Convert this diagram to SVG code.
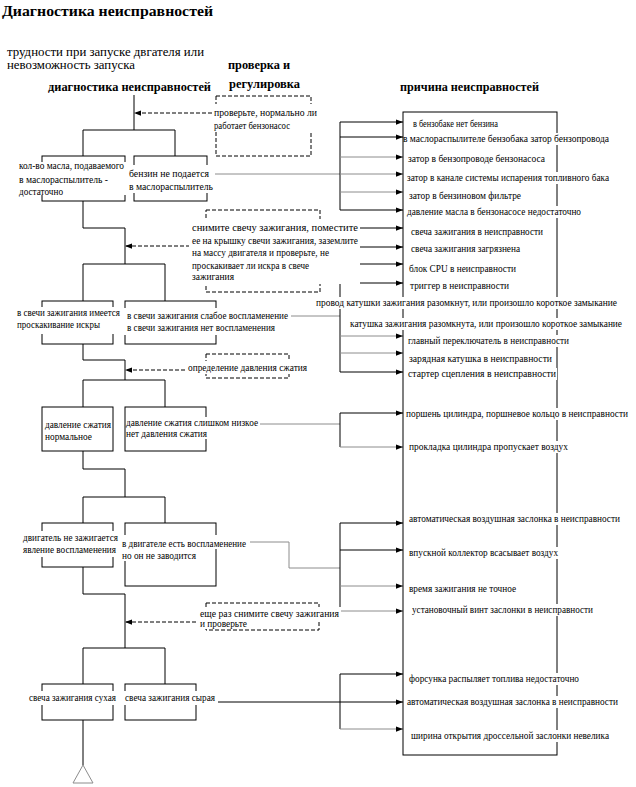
<svg xmlns="http://www.w3.org/2000/svg" width="636" height="787" viewBox="0 0 636 787" font-family="'Liberation Serif', 'DejaVu Serif', serif">
<style>
text{font-family:'Liberation Serif','DejaVu Serif',serif;font-size:10px;fill:#000}
.h{font-weight:bold;font-size:12px}
.t{font-weight:bold;font-size:15px}
.s{font-size:12.5px}
.r{font-size:9.5px}
.ln{fill:none;stroke:#000;stroke-width:1}
.g{fill:none;stroke:#8c8c8c;stroke-width:1}
.d{fill:none;stroke:#000;stroke-width:1;stroke-dasharray:4,2}
.bx{fill:none;stroke:#000;stroke-width:1}
.m{fill:#fff}
</style>
<defs>
<marker id="ah" viewBox="0 0 8 6" refX="8" refY="3" markerWidth="7" markerHeight="5.5" orient="auto" markerUnits="userSpaceOnUse"><path d="M0,0L8,3L0,6z" fill="#000"/></marker>
</defs>
<rect width="636" height="787" fill="#fff"/>

<g id="headers">
<text class="t" x="2" y="16" textLength="211" lengthAdjust="spacingAndGlyphs">Диагностика неисправностей</text>
<text class="s" x="7" y="56" textLength="197" lengthAdjust="spacingAndGlyphs">трудности при запуске двгателя или</text>
<text class="s" x="7" y="69" textLength="128" lengthAdjust="spacingAndGlyphs">невозможность запуска</text>
<text class="h" x="228" y="69" textLength="62" lengthAdjust="spacingAndGlyphs">проверка и</text>
<text class="h" x="229" y="88" textLength="71" lengthAdjust="spacingAndGlyphs">регулировка</text>
<text class="h" x="48" y="91" textLength="163" lengthAdjust="spacingAndGlyphs">диагностика неисправностей</text>
<text class="h" x="400" y="91" textLength="139" lengthAdjust="spacingAndGlyphs">причина неисправностей</text>
</g>

<g id="connectors">
<path class="ln" d="M134,95V130M83,130H175M83,130V156M175,130V156"/>
<path class="d" d="M212,113H134" marker-end="url(#ah)"/>
<path class="ln" d="M83,201V228H125V264"/>
<path class="d" d="M190,246H125" marker-end="url(#ah)"/>
<path class="ln" d="M125,264H165M83,301V264H125M165,264V301"/>
<path class="ln" d="M83,344V360H125V380M83,380H165M83,380V407M165,380V407"/>
<path class="d" d="M185,370H125" marker-end="url(#ah)"/>
<path class="ln" d="M83,451V469H125V497M83,523V497H165V523"/>
<path class="ln" d="M83,567V594H125V648M83,648H165M83,648V684M165,648V684"/>
<path class="d" d="M196,622H125" marker-end="url(#ah)"/>
<path class="ln" d="M83,720V765"/>
<path d="M83,765L73,783H93z" fill="none" stroke="#8c8c8c" stroke-width="1"/>

<path class="g" d="M215,174H340"/>
<path class="ln" d="M340,122V210"/>
<path class="ln" d="M340,122H403" marker-end="url(#ah)"/>
<path class="ln" d="M340,137H403" marker-end="url(#ah)"/>
<path class="g" d="M340,157H403" marker-end="url(#ah)"/>
<path class="g" d="M340,174H403" marker-end="url(#ah)"/>
<path class="g" d="M340,192H403" marker-end="url(#ah)"/>
<path class="ln" d="M340,210H403" marker-end="url(#ah)"/>

<path class="ln" d="M359,228H403" marker-end="url(#ah)"/>
<path class="ln" d="M359,247H403" marker-end="url(#ah)"/>
<path class="ln" d="M359,264H403" marker-end="url(#ah)"/>
<path class="g" d="M290,316H340"/>
<path class="ln" d="M340,283V372"/>
<path class="ln" d="M340,283H403" marker-end="url(#ah)"/>
<path class="g" d="M340,336H403" marker-end="url(#ah)"/>
<path class="g" d="M340,353H403" marker-end="url(#ah)"/>
<path class="ln" d="M340,372H403" marker-end="url(#ah)"/>

<path class="g" d="M260,424H340"/>
<path class="ln" d="M340,413V447"/>
<path class="ln" d="M340,413H403" marker-end="url(#ah)"/>
<path class="g" d="M340,447H403" marker-end="url(#ah)"/>

<path class="g" d="M248,542H289V568H340"/>
<path class="ln" d="M340,523V611"/>
<path class="ln" d="M340,523H403" marker-end="url(#ah)"/>
<path class="ln" d="M340,550H403" marker-end="url(#ah)"/>
<path class="g" d="M340,586H403" marker-end="url(#ah)"/>
<path class="g" d="M340,611H403" marker-end="url(#ah)"/>

<path class="ln" d="M218,702H403" marker-end="url(#ah)"/>
<path class="ln" d="M340,674V729"/>
<path class="ln" d="M340,674H403" marker-end="url(#ah)"/>
<path class="g" d="M340,729H403" marker-end="url(#ah)"/>
</g>

<g id="check1">
<rect class="d" x="216" y="96" width="95" height="60"/>
<rect class="m" x="212" y="104" width="106" height="28"/>
<text x="214" y="116" textLength="103" lengthAdjust="spacingAndGlyphs">проверьте, нормально ли</text>
<text x="214" y="129" textLength="76" lengthAdjust="spacingAndGlyphs">работает бензонасос</text>
</g>

<g id="n1a">
<rect class="bx" x="42" y="156" width="83" height="45"/>
<rect class="m" x="17" y="162" width="110" height="33"/>
<text x="19" y="169" textLength="105" lengthAdjust="spacingAndGlyphs">кол-во масла, подаваемого</text>
<text x="19" y="183" textLength="89" lengthAdjust="spacingAndGlyphs">в маслораспылитель -</text>
<text x="19" y="195" textLength="44" lengthAdjust="spacingAndGlyphs">достаточно</text>
</g>

<g id="n1b">
<rect class="bx" x="134" y="156" width="73" height="45"/>
<rect class="m" x="127" y="165" width="88" height="28"/>
<text x="129" y="177" textLength="80" lengthAdjust="spacingAndGlyphs">бензин не подается</text>
<text x="129" y="190" textLength="84" lengthAdjust="spacingAndGlyphs">в маслораспылитель</text>
</g>

<g id="check2">
<rect class="d" x="206" y="210" width="114" height="82"/>
<rect class="m" x="189" y="219" width="171" height="65"/>
<text x="192" y="231" textLength="166" lengthAdjust="spacingAndGlyphs">снимите свечу зажигания, поместите</text>
<text x="192" y="244" textLength="166" lengthAdjust="spacingAndGlyphs">ее на крышку свечи зажигания, заземлите</text>
<text x="192" y="256" textLength="137" lengthAdjust="spacingAndGlyphs">на массу двигателя и проверьте, не</text>
<text x="192" y="269" textLength="117" lengthAdjust="spacingAndGlyphs">проскакивает ли искра в свече</text>
<text x="192" y="280" textLength="42" lengthAdjust="spacingAndGlyphs">зажигания</text>
</g>

<g id="n2a">
<rect class="bx" x="42" y="301" width="71" height="43"/>
<rect class="m" x="15" y="307" width="107" height="27"/>
<text x="17" y="316" textLength="103" lengthAdjust="spacingAndGlyphs">в свечи зажигания имеется</text>
<text x="17" y="328" textLength="83" lengthAdjust="spacingAndGlyphs">проскакивание искры</text>
</g>

<g id="n2b">
<rect class="bx" x="125" y="301" width="91" height="43"/>
<rect class="m" x="124" y="308" width="167" height="27"/>
<text x="127" y="319" textLength="161" lengthAdjust="spacingAndGlyphs">в свечи зажигания слабое воспламенение</text>
<text x="127" y="331" textLength="148" lengthAdjust="spacingAndGlyphs">в свечи зажигания нет воспламенения</text>
</g>

<g id="check3">
<rect class="d" x="206" y="354" width="83" height="24"/>
<rect class="m" x="186" y="361" width="123" height="13"/>
<text x="188" y="371" textLength="119" lengthAdjust="spacingAndGlyphs">определение давления сжатия</text>
</g>

<g id="n3a">
<rect class="bx" x="42" y="407" width="71" height="44"/>
<text x="45" y="428" textLength="66" lengthAdjust="spacingAndGlyphs">давление сжатия</text>
<text x="45" y="440" textLength="47" lengthAdjust="spacingAndGlyphs">нормальное</text>
</g>

<g id="n3b">
<rect class="bx" x="125" y="407" width="81" height="44"/>
<rect class="m" x="126" y="417" width="134" height="22"/>
<text x="126" y="426" textLength="132" lengthAdjust="spacingAndGlyphs">давление сжатия слишком низкое</text>
<text x="126" y="437" textLength="81" lengthAdjust="spacingAndGlyphs">нет давления сжатия</text>
</g>

<g id="n4a">
<rect class="bx" x="42" y="523" width="71" height="44"/>
<rect class="m" x="21" y="531" width="99" height="26"/>
<text x="23" y="541" textLength="95" lengthAdjust="spacingAndGlyphs">двигатель не зажигается</text>
<text x="23" y="553" textLength="93" lengthAdjust="spacingAndGlyphs">явление воспламенения</text>
</g>

<g id="n4b">
<rect class="bx" x="125" y="523" width="91" height="63"/>
<rect class="m" x="121" y="535" width="129" height="14"/>
<rect class="m" x="121" y="549" width="78" height="12"/>
<text x="122" y="547" textLength="124" lengthAdjust="spacingAndGlyphs">в двигателе есть воспламенение</text>
<text x="122" y="559" textLength="74" lengthAdjust="spacingAndGlyphs">но он не заводится</text>
</g>

<g id="check4">
<rect class="d" x="206" y="603" width="113" height="27"/>
<rect class="m" x="198" y="607" width="143" height="13"/>
<rect class="m" x="198" y="620" width="52" height="9"/>
<text x="200" y="617" textLength="139" lengthAdjust="spacingAndGlyphs">еще раз снимите свечу зажигания</text>
<text x="200" y="627" textLength="47" lengthAdjust="spacingAndGlyphs">и проверьте</text>
</g>

<g id="n5a">
<rect class="bx" x="42" y="684" width="71" height="36"/>
<rect class="m" x="27" y="691" width="92" height="14"/>
<text x="29" y="701" textLength="87" lengthAdjust="spacingAndGlyphs">свеча зажигания сухая</text>
</g>

<g id="n5b">
<rect class="bx" x="125" y="684" width="71" height="36"/>
<rect class="m" x="123" y="691" width="94" height="14"/>
<text x="125" y="701" textLength="90" lengthAdjust="spacingAndGlyphs">свеча зажигания сырая</text>
</g>

<g id="causes">
<rect class="bx" x="403" y="112" width="154" height="643"/>
<rect class="m" x="412" y="119" width="87" height="11"/>
<text class="r" x="413" y="127" textLength="85" lengthAdjust="spacingAndGlyphs">в бензобаке нет бензина</text>
<rect class="m" x="404" y="133" width="207" height="12"/>
<text class="r" x="403" y="142" textLength="206" lengthAdjust="spacingAndGlyphs">в маслораспылителе бензобака затор бензопровода</text>
<rect class="m" x="407" y="153" width="139" height="12"/>
<text class="r" x="408" y="162" textLength="137" lengthAdjust="spacingAndGlyphs">затор в бензопроводе бензонасоса</text>
<rect class="m" x="406" y="172" width="204" height="12"/>
<text class="r" x="407" y="181" textLength="202" lengthAdjust="spacingAndGlyphs">затор в канале системы испарения топливного бака</text>
<rect class="m" x="408" y="190" width="114" height="12"/>
<text class="r" x="409" y="199" textLength="112" lengthAdjust="spacingAndGlyphs">затор в бензиновом фильтре</text>
<rect class="m" x="406" y="206" width="176" height="12"/>
<text class="r" x="407" y="215" textLength="174" lengthAdjust="spacingAndGlyphs">давление масла в бензонасосе недостаточно</text>
<rect class="m" x="410" y="226" width="134" height="12"/>
<text class="r" x="411" y="235" textLength="132" lengthAdjust="spacingAndGlyphs">свеча зажигания в неисправности</text>
<rect class="m" x="410" y="243" width="111" height="12"/>
<text class="r" x="411" y="252" textLength="109" lengthAdjust="spacingAndGlyphs">свеча зажигания загрязнена</text>
<rect class="m" x="408" y="263" width="109" height="12"/>
<text class="r" x="409" y="272" textLength="107" lengthAdjust="spacingAndGlyphs">блок CPU в неисправности</text>
<rect class="m" x="409" y="280" width="101" height="12"/>
<text class="r" x="410" y="289" textLength="99" lengthAdjust="spacingAndGlyphs">триггер в неисправности</text>
<rect class="m" x="315" y="297" width="303" height="12"/>
<text class="r" x="316" y="306" textLength="301" lengthAdjust="spacingAndGlyphs">провод катушки зажигания разомкнут, или произошло короткое замыкание</text>
<rect class="m" x="348" y="318" width="276" height="12"/>
<text class="r" x="350" y="327" textLength="272" lengthAdjust="spacingAndGlyphs">катушка зажигания разомкнута, или произошло короткое замыкание</text>
<rect class="m" x="407" y="335" width="163" height="12"/>
<text class="r" x="408" y="344" textLength="161" lengthAdjust="spacingAndGlyphs">главный переключатель в неисправности</text>
<rect class="m" x="408" y="354" width="145" height="11"/>
<text class="r" x="409" y="362" textLength="143" lengthAdjust="spacingAndGlyphs">зарядная катушка в неисправности</text>
<rect class="m" x="407" y="368" width="150" height="12"/>
<text class="r" x="408" y="377" textLength="148" lengthAdjust="spacingAndGlyphs">стартер сцепления в неисправности</text>
<rect class="m" x="405" y="408" width="224" height="12"/>
<text class="r" x="406" y="417" textLength="222" lengthAdjust="spacingAndGlyphs">поршень цилиндра, поршневое кольцо в неисправности</text>
<rect class="m" x="408" y="441" width="161" height="12"/>
<text class="r" x="409" y="450" textLength="159" lengthAdjust="spacingAndGlyphs">прокладка цилиндра пропускает воздух</text>
<rect class="m" x="408" y="513" width="213" height="12"/>
<text class="r" x="409" y="522" textLength="211" lengthAdjust="spacingAndGlyphs">автоматическая воздушная заслонка в неисправности</text>
<rect class="m" x="408" y="547" width="151" height="12"/>
<text class="r" x="409" y="556" textLength="149" lengthAdjust="spacingAndGlyphs">впускной коллектор всасывает воздух</text>
<rect class="m" x="408" y="583" width="109" height="12"/>
<text class="r" x="409" y="592" textLength="107" lengthAdjust="spacingAndGlyphs">время зажигания не точное</text>
<rect class="m" x="411" y="604" width="183" height="12"/>
<text class="r" x="412" y="613" textLength="181" lengthAdjust="spacingAndGlyphs">установочный винт заслонки в неисправности</text>
<rect class="m" x="408" y="673" width="172" height="12"/>
<text class="r" x="409" y="682" textLength="170" lengthAdjust="spacingAndGlyphs">форсунка распыляет топлива недостаточно</text>
<rect class="m" x="406" y="696" width="213" height="12"/>
<text class="r" x="407" y="705" textLength="211" lengthAdjust="spacingAndGlyphs">автоматическая воздушная заслонка в неисправности</text>
<rect class="m" x="410" y="730" width="200" height="12"/>
<text class="r" x="411" y="739" textLength="198" lengthAdjust="spacingAndGlyphs">ширина открытия дроссельной заслонки невелика</text>
</g>
</svg>
